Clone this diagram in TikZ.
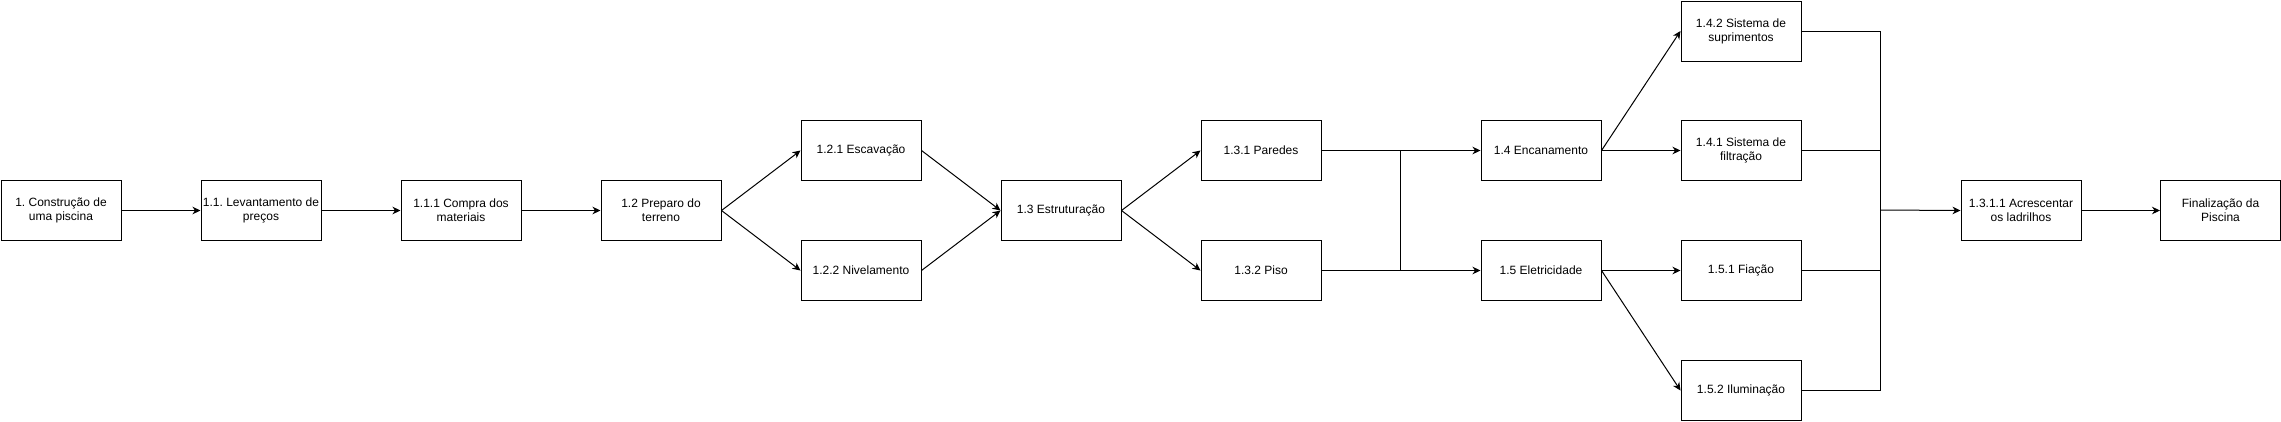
\documentclass[tikz,border=0pt]{standalone}
\usepackage{fontspec}
\setmainfont{Liberation Sans}
\frenchspacing
\usetikzlibrary{arrows.meta}
\begin{document}
\begin{tikzpicture}[x=1pt,y=-1pt,
  box/.style={draw=black,line width=1pt,minimum width=120pt,minimum height=60pt,inner sep=0pt,
    align=center,font=\fontsize{12pt}{14pt}\selectfont,anchor=north west},
  conn/.style={line width=1pt,-{Stealth[length=8pt,width=7.5pt,inset=2.5pt]}},
  plain/.style={line width=1pt}]
\useasboundingbox (0,0) rectangle (2281,421);
\node[box] (a)   at (0.5,180)  {1. Construção de\\uma piscina};
\node[box] (b)   at (200.5,180) {1.1. Levantamento de\\preços};
\node[box] (c)   at (400.5,180) {1.1.1 Compra dos\\materiais};
\node[box] (d)   at (600.5,180) {1.2 Preparo do\\terreno};
\node[box] (e1)  at (800.5,120) {1.2.1 Escavação};
\node[box] (e2)  at (800.5,240) {1.2.2 Nivelamento};
\node[box] (f)   at (1000.5,180) {1.3 Estruturação};
\node[box] (g1)  at (1200.5,120) {1.3.1 Paredes};
\node[box] (g2)  at (1200.5,240) {1.3.2 Piso};
\node[box] (h1)  at (1480.5,120) {1.4 Encanamento};
\node[box] (h2)  at (1480.5,240) {1.5 Eletricidade};
\node[box] (i1)  at (1680.5,0.5) {1.4.2 Sistema de\\suprimentos};
\node[box] (i2)  at (1680.5,120) {1.4.1 Sistema de\\filtração};
\node[box] (i3)  at (1680.5,240) {1.5.1 Fiação};
\node[box] (i4)  at (1680.5,360) {1.5.2 Iluminação};
\node[box] (k)   at (1960.5,180) {1.3.1.1 Acrescentar\\os ladrilhos};
\node[box] (l)   at (2160,180) {Finalização da\\Piscina};
\coordinate (j1) at (1400,210);
\coordinate (j2) at (1880,210);
\draw[conn] (a) -- (b);
\draw[conn] (b) -- (c);
\draw[conn] (c) -- (d);
\draw[conn] (d.east) -- (e1.west);
\draw[conn] (d.east) -- (e2.west);
\draw[conn] (e1.east) -- (f.west);
\draw[conn] (e2.east) -- (f.west);
\draw[conn] (f.east) -- (g1.west);
\draw[conn] (f.east) -- (g2.west);
\draw[conn] (g1.east) -- (h1.west);
\draw[conn] (g2.east) -- (h2.west);
\draw[plain] (g1.east) -| (j1) |- (g2.east);
\draw[conn] (h1.east) -- (i1.west);
\draw[conn] (h1.east) -- (i2.west);
\draw[conn] (h2.east) -- (i3.west);
\draw[conn] (h2.east) -- (i4.west);
\draw[plain] (i1.east) -| (j2) |- (i4.east);
\draw[plain] (i2.east) -| (j2);
\draw[plain] (i3.east) -| (j2);
\draw[conn] (j2) -- (k.west);
\draw[conn] (k) -- (l);
\end{tikzpicture}
\end{document}
